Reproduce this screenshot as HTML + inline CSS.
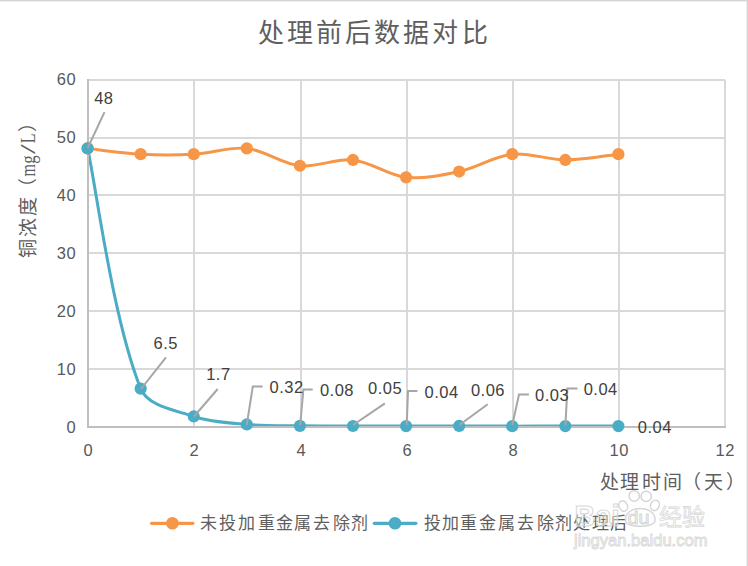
<!DOCTYPE html>
<html lang="zh-CN"><head><meta charset="utf-8">
<style>
html,body{margin:0;padding:0;background:#fff;}
body{width:748px;height:566px;overflow:hidden;position:relative;}
svg{position:absolute;left:0;top:0;}
text{font-family:"Liberation Sans",sans-serif;}
.num{letter-spacing:0.5px;}
</style></head><body>
<svg width="748" height="566" viewBox="0 0 748 566">
<rect x="0" y="0" width="748" height="566" fill="#fff"/>
<rect x="0" y="0" width="748" height="1" fill="#d4d4d4"/>
<rect x="0" y="1" width="747" height="1" fill="#efefef"/>
<rect x="747" y="0" width="1" height="566" fill="#d4d4d4"/>
<rect x="746" y="1" width="1" height="565" fill="#efefef"/>

<g fill="#5e5e5e">
<text x="257.70 286.80 315.60 344.50 374.25 403.15 432.00 462.10" y="42.10" font-size="26">处理前后数据对比</text>
</g>
<g stroke="#d9d9d9" stroke-width="2">
<line x1="194" y1="80" x2="194" y2="427"/>
<line x1="301" y1="80" x2="301" y2="427"/>
<line x1="407" y1="80" x2="407" y2="427"/>
<line x1="513" y1="80" x2="513" y2="427"/>
<line x1="619" y1="80" x2="619" y2="427"/>
<line x1="725" y1="80" x2="725" y2="427"/>
<line x1="88" y1="369" x2="725" y2="369"/>
<line x1="88" y1="311" x2="725" y2="311"/>
<line x1="88" y1="253" x2="725" y2="253"/>
<line x1="88" y1="195" x2="725" y2="195"/>
<line x1="88" y1="138" x2="725" y2="138"/>
<line x1="88" y1="80" x2="725" y2="80"/>
</g>
<g font-size="16.5" fill="#595959" text-anchor="end" class="num">
<text x="76.10" y="84.70">60</text>
<text x="76.10" y="142.73">50</text>
<text x="76.10" y="200.76">40</text>
<text x="76.10" y="258.79">30</text>
<text x="76.10" y="316.82">20</text>
<text x="76.10" y="374.85">10</text>
<text x="76.10" y="432.88">0</text>
</g>
<g font-size="16.5" fill="#595959" text-anchor="middle" class="num">
<text x="88.25" y="455.8">0</text>
<text x="194.25" y="455.8">2</text>
<text x="301.25" y="455.8">4</text>
<text x="407.25" y="455.8">6</text>
<text x="513.25" y="455.8">8</text>
<text x="619.25" y="455.8">10</text>
<text x="725.25" y="455.8">12</text>
</g>
<g fill="#5e5e5e">
<text x="599.65 620.40 642.05 663.10 681.70 703.85 726.30" y="488.75" font-size="19">处理时间（天）</text>
<g transform="translate(34.9,0) rotate(-90)">
<text x="-258.40 -237.30 -216.30 -197.40" y="0" font-size="19">铜浓度（</text>
<g style="font-family:'Liberation Serif',serif" font-size="21.5" transform="translate(0.3,0)">
<text x="-176.70" y="0" textLength="12.40" lengthAdjust="spacingAndGlyphs" style="font-family:'Liberation Serif',serif">m</text>
<text x="-164.10" y="0" textLength="8.40" lengthAdjust="spacingAndGlyphs" style="font-family:'Liberation Serif',serif">g</text>
<text x="-154.20" y="0" textLength="9.80" lengthAdjust="spacingAndGlyphs" style="font-family:'Liberation Serif',serif">/</text>
<text x="-143.50" y="0" textLength="9.80" lengthAdjust="spacingAndGlyphs" style="font-family:'Liberation Serif',serif">L</text>
</g>
<text x="-131.5" y="0" font-size="19">）</text>
</g></g>
<path d="M87.60 148.38 C96.45 149.34 122.93 153.20 140.68 154.17 C158.32 155.13 176.12 155.13 193.76 154.17 C211.51 153.20 229.54 146.49 246.84 148.38 C264.93 150.35 281.83 163.78 299.92 165.75 C317.22 167.64 335.70 158.07 353.00 159.96 C371.09 161.93 387.99 175.36 406.08 177.33 C423.38 179.22 441.86 175.31 459.16 171.54 C477.25 167.59 494.15 156.14 512.24 154.17 C529.54 152.28 547.63 159.96 565.32 159.96 C583.01 159.96 609.55 155.14 618.40 154.17" fill="none" stroke="#f79646" stroke-width="3" stroke-linejoin="round" stroke-linecap="round"/>
<path d="M87.60 148.38 C96.45 188.43 112.22 316.80 140.68 388.67 C147.61 406.16 175.10 410.17 193.76 416.46 C210.48 422.09 229.05 422.88 246.84 424.45 C264.44 426.00 282.22 425.58 299.92 425.84 C317.61 426.10 335.31 425.97 353.00 426.01 C370.69 426.05 388.39 426.08 406.08 426.07 C423.77 426.06 441.47 425.94 459.16 425.95 C476.85 425.96 494.55 426.11 512.24 426.13 C529.93 426.15 547.63 426.08 565.32 426.07 C583.01 426.06 609.55 426.07 618.40 426.07" fill="none" stroke="#4bacc6" stroke-width="3" stroke-linejoin="round" stroke-linecap="round"/>
<line x1="87" y1="427" x2="726" y2="427" stroke="#bfbfbf" stroke-width="2"/>
<line x1="88" y1="79" x2="88" y2="428" stroke="#bfbfbf" stroke-width="2"/>
<g fill="#f79646"><circle cx="87.60" cy="148.38" r="6.1"/><circle cx="140.68" cy="154.17" r="6.1"/><circle cx="193.76" cy="154.17" r="6.1"/><circle cx="246.84" cy="148.38" r="6.1"/><circle cx="299.92" cy="165.75" r="6.1"/><circle cx="353.00" cy="159.96" r="6.1"/><circle cx="406.08" cy="177.33" r="6.1"/><circle cx="459.16" cy="171.54" r="6.1"/><circle cx="512.24" cy="154.17" r="6.1"/><circle cx="565.32" cy="159.96" r="6.1"/><circle cx="618.40" cy="154.17" r="6.1"/></g>
<g fill="#4bacc6"><circle cx="87.60" cy="148.38" r="6.1"/><circle cx="140.68" cy="388.67" r="6.1"/><circle cx="193.76" cy="416.46" r="6.1"/><circle cx="246.84" cy="424.45" r="6.1"/><circle cx="299.92" cy="425.84" r="6.1"/><circle cx="353.00" cy="426.01" r="6.1"/><circle cx="406.08" cy="426.07" r="6.1"/><circle cx="459.16" cy="425.95" r="6.1"/><circle cx="512.24" cy="426.13" r="6.1"/><circle cx="565.32" cy="426.07" r="6.1"/><circle cx="618.40" cy="426.07" r="6.1"/></g>
<g fill="none" stroke="#a6a6a6" stroke-width="2"><polyline points="87.7,148.0 104.5,112.2"/><polyline points="141.0,389.0 166.0,357.4"/><polyline points="194.0,416.5 217.7,389.0"/><polyline points="246.7,425.0 252.8,386.6 262.7,386.6"/><polyline points="300.2,425.0 303.4,389.5 312.7,389.5"/><polyline points="353.1,425.0 384.9,403.4"/><polyline points="406.7,425.0 408.0,390.9 417.4,390.9"/><polyline points="459.4,425.0 487.7,404.2"/><polyline points="512.3,425.0 519.0,394.6 528.9,394.6"/><polyline points="565.4,425.5 567.4,388.4 577.5,388.4"/></g>
<g font-size="16.5" fill="#404040" class="num"><text x="94.2" y="103.6">48</text><text x="153.5" y="348.7">6.5</text><text x="206.2" y="380.0">1.7</text><text x="269.5" y="393.1">0.32</text><text x="319.9" y="395.7">0.08</text><text x="368.1" y="394.4">0.05</text><text x="424.6" y="397.9">0.04</text><text x="470.9" y="396.0">0.06</text><text x="535.0" y="401.4">0.03</text><text x="583.7" y="394.8">0.04</text><text x="637.8" y="433.0">0.04</text></g>
<line x1="151.6" y1="523.3" x2="192.9" y2="523.3" stroke="#f79646" stroke-width="3.2" stroke-linecap="round"/>
<circle cx="172.4" cy="523.3" r="6.3" fill="#f79646"/>
<line x1="374.3" y1="523.3" x2="415.9" y2="523.3" stroke="#4bacc6" stroke-width="3.2" stroke-linecap="round"/>
<circle cx="395" cy="523.3" r="6.3" fill="#4bacc6"/>
<g fill="#5e5e5e">
<text x="200.15 219.40 238.05 258.20 276.00 293.85 313.10 332.65 350.70" y="529.05" font-size="17">未投加重金属去除剂</text>
<text x="423.70 442.05 460.40 478.65 497.70 517.25 536.80 554.85 573.25 591.60 609.65" y="529.05" font-size="17">投加重金属去除剂处理后</text>
</g>
<g fill="#ffffff" fill-opacity="0.5" stroke="#d6d6d6" stroke-width="1.5"><ellipse cx="623.2" cy="506" rx="4.2" ry="5.4" transform="rotate(-25 623.2 506)"/><ellipse cx="634.2" cy="496" rx="5.2" ry="5.2"/><ellipse cx="646.2" cy="496.4" rx="5.2" ry="5.2"/><ellipse cx="654.9" cy="505.4" rx="4.2" ry="5.4" transform="rotate(25 654.9 505.4)"/><path d="M625.5 521 C624.5 513 632 508.5 640 508.5 C648 508.5 656 513 655 521 C654 528 626.5 528 625.5 521 Z"/></g>
<g fill="#ffffff" fill-opacity="0.4" stroke="#d4d4d4" stroke-width="1.1" stroke-opacity="0.9">
<text x="574.5" y="526" font-size="29.5" font-weight="bold" textLength="45" lengthAdjust="spacingAndGlyphs">Bai</text>
<text x="627.5" y="524" font-size="18.5" textLength="22" lengthAdjust="spacingAndGlyphs">du</text>
<text x="659" y="525" font-size="23" stroke-width="0.8">经验</text>
<text x="574" y="546" font-size="16.5" stroke-width="0.9" textLength="133.5" lengthAdjust="spacingAndGlyphs">jingyan.baidu.com</text>
</g>
</svg>
</body></html>
